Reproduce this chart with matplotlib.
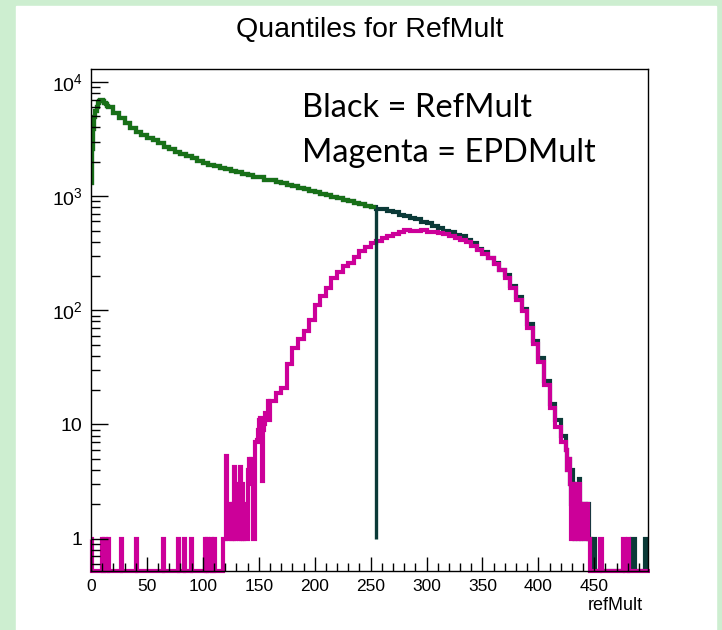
import numpy as np
import matplotlib.pyplot as plt
from matplotlib.patches import Rectangle
from matplotlib.ticker import LogLocator, MultipleLocator, FuncFormatter, NullFormatter

plt.rcParams['font.family'] = ['Liberation Sans', 'DejaVu Sans']
plt.rcParams['mathtext.fontset'] = 'custom'
plt.rcParams['mathtext.rm'] = 'Liberation Sans'
plt.rcParams['mathtext.it'] = 'Liberation Sans:italic'

# counts per 5-unit bin, 0..500
refmult_coarse = [4000, 6500, 6600, 6000, 5400, 4800, 4380, 3940, 3660, 3400,
                  3260, 3080, 2910, 2700, 2590, 2440, 2360, 2230, 2150, 2030,
                  1970, 1890, 1840, 1780, 1740, 1660, 1640, 1570, 1530, 1470,
                  1460, 1390, 1390, 1320, 1300, 1250, 1230, 1180, 1160, 1100,
                  1090, 1040, 1030, 980, 970, 925, 910, 875, 855, 820,
                  805, 775, 765, 735, 720, 690, 675, 645, 630, 595,
                  585, 545, 530, 500, 490, 455, 448, 410, 388, 345,
                  322, 286, 262, 226, 202, 162, 132, 102, 76, 54,
                  38, 24, 15, 11, 8, 0, 0, 0, 0, 0,
                  0, 0, 0, 0, 0, 0, 0, 0, 0, 0]

epdmult_coarse = [0, 0, 0, 0, 0, 0, 0, 0, 0, 0,
                  0, 0, 0, 0, 0, 0, 0, 0, 0, 0,
                  0, 0, 0, 0, 0, 0, 0, 0, 0, 0,
                  0, 0, 16, 19, 21, 34, 47, 56, 66, 82,
                  112, 133, 158, 192, 218, 243, 262, 293, 332, 357,
                  388, 408, 432, 452, 468, 488, 510, 498, 492, 502,
                  488, 482, 472, 466, 448, 432, 412, 393, 368, 340,
                  312, 285, 252, 224, 193, 158, 124, 98, 70, 51,
                  35, 22, 14, 9.5, 7, 0, 0, 0, 0, 0,
                  0, 0, 0, 0, 0, 0, 0, 0, 0, 0]

# single-unit bins where the fine structure shows (bin start -> count)
refmult_fine = {0: 1300, 1: 2600, 2: 3900, 3: 4900, 4: 5600, 5: 6100, 6: 6500,
                7: 6800, 8: 6900, 9: 7000, 10: 6950, 11: 6800, 12: 6600,
                13: 6400, 14: 6200,
                425: 6, 426: 4, 427: 5, 428: 3, 429: 2, 430: 4, 431: 3, 432: 2,
                433: 1, 434: 3, 435: 2, 436: 3.3, 437: 2, 438: 1, 439: 2,
                440: 2, 441: 2, 442: 2, 443: 1, 444: 2, 445: 1, 446: 1,
                450: 1, 484: 1, 485: 1, 495: 1, 496: 1}

epdmult_fine = {0: 1, 10: 1, 12: 1, 15: 1, 27: 1, 40: 1, 64: 1, 78: 1, 83: 1,
                89: 1, 102: 1, 104: 1, 107: 1, 110: 1, 118: 1, 119: 1, 120: 1,
                121: 5.3, 122: 1, 123: 2, 124: 2, 125: 1, 126: 2, 127: 1,
                128: 4.2, 129: 1, 130: 3, 131: 2, 132: 1, 133: 4.2, 134: 1,
                135: 3, 136: 1, 137: 2, 138: 1, 139: 1, 140: 4, 141: 5, 142: 4,
                143: 5, 144: 3, 145: 1, 146: 1, 147: 7, 148: 7.3, 149: 9,
                150: 11, 151: 11.5, 152: 7, 153: 3.2, 154: 9, 155: 10,
                156: 12.7, 157: 12, 158: 16, 159: 11,
                425: 6, 426: 4, 427: 5, 428: 3, 429: 1, 430: 3, 431: 2, 432: 1,
                433: 3, 434: 2, 435: 1, 436: 3, 437: 1, 438: 2, 439: 2,
                440: 2, 441: 1, 442: 2, 443: 2, 444: 1, 445: 1,
                455: 1, 456: 1, 476: 1, 480: 1}

quantile_cut = 255
quantile_top = 780

dark = '#0b3a38'
green = '#187018'
magenta = '#cc0099'
y_low, y_high = 0.52, 13000


def unit_bins(coarse, fine):
    counts = np.repeat(np.asarray(coarse, float), 5)
    for b, v in fine.items():
        counts[b] = v
    return np.clip(counts, y_low, None)


edges = np.arange(0, 501)
ref = unit_bins(refmult_coarse, refmult_fine)
epd = unit_bins(epdmult_coarse, epdmult_fine)

fig = plt.figure(figsize=(7.22, 6.3), dpi=100)
fig.patch.set_facecolor('#cdeed0')
fig.add_artist(Rectangle((16 / 722, 0), 700 / 722, 624 / 630,
                         transform=fig.transFigure, color='white', zorder=0))

ax = fig.add_axes([91 / 722, 59 / 630, 557 / 722, 502 / 630])
ax.set_yscale('log')
ax.set_xlim(0, 498)
ax.set_ylim(y_low, y_high)

lw = 3.0
ax.stairs(ref, edges, color=dark, lw=lw, baseline=None)
ax.stairs(ref[:quantile_cut], edges[:quantile_cut + 1], color=green, lw=lw,
          baseline=None)
ax.vlines(quantile_cut, 1, quantile_top, color=dark, lw=2.4)
ax.stairs(epd, edges, color=magenta, lw=lw, baseline=None, clip_on=False)

ax.xaxis.set_major_locator(MultipleLocator(50))
ax.xaxis.set_minor_locator(MultipleLocator(10))
ax.yaxis.set_major_locator(LogLocator(base=10, numticks=10))
ax.yaxis.set_minor_locator(LogLocator(base=10, subs=np.arange(2, 10), numticks=10))
ax.yaxis.set_minor_formatter(NullFormatter())


def ylab(v, pos):
    n = int(round(np.log10(v)))
    if n == 0:
        return '1'
    if n == 1:
        return '10'
    return r'$10^{%d}$' % n


ax.yaxis.set_major_formatter(FuncFormatter(ylab))
ax.tick_params(axis='y', which='major', direction='in', length=12, width=1,
               labelsize=14, pad=6)
ax.tick_params(axis='y', which='minor', direction='in', length=6.5, width=1)
ax.tick_params(axis='x', which='major', direction='in', length=10, width=1,
               labelsize=12.5, pad=6)
ax.tick_params(axis='x', which='minor', direction='in', length=5.5, width=1)
for s in ax.spines.values():
    s.set_linewidth(1)

fig.text(370 / 722, 1 - 30 / 630, 'Quantiles for RefMult', ha='center',
         va='center', fontsize=20.5)
fig.text(643 / 722, 1 - 606 / 630, 'refMult', ha='right', va='center',
         fontsize=13)
ax.text(302 / 722, 1 - 117 / 630, 'Black = RefMult', transform=fig.transFigure,
        fontsize=23.5, family='Lato', va='baseline')
ax.text(302 / 722, 1 - 162 / 630, 'Magenta = EPDMult',
        transform=fig.transFigure, fontsize=23.5, family='Lato', va='baseline')

fig.savefig('out.png', dpi=100)
